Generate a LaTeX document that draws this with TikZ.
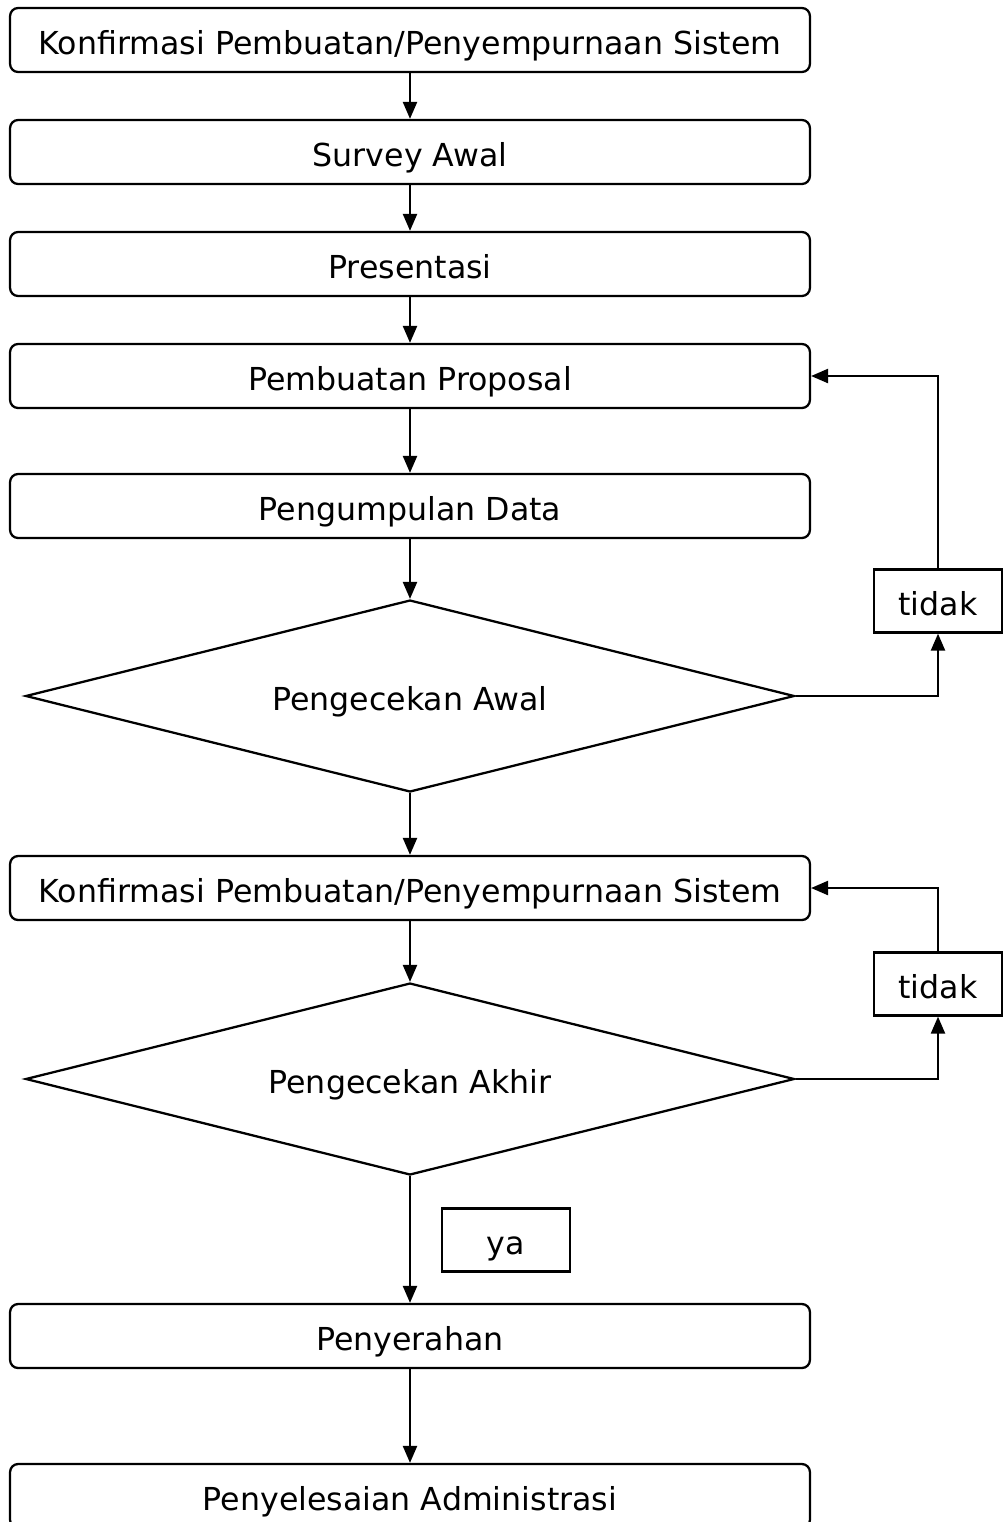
\documentclass[tikz,border=0pt]{standalone}
\usepackage{fontspec}
\setmainfont{DejaVu Sans}
\usetikzlibrary{arrows.meta,shapes.geometric}

\begin{document}
\begin{tikzpicture}[x=0.02cm, y=-0.02cm, line width=1.3pt,
    font=\fontsize{18}{21}\selectfont,
    every node/.style={text height=17pt, text depth=0pt},
    proses/.style={draw, rounded corners=0.16cm, minimum width=16cm,
      minimum height=1.28cm, inner sep=0pt},
    cek/.style={draw, diamond, aspect=4, minimum width=15.38cm, minimum height=3.84cm,
      inner sep=0pt},
    jawab/.style={draw, minimum width=2.56cm, minimum height=1.26cm, inner sep=0pt},
    panah/.style={-{Triangle[length=0.34cm, width=0.28cm]}}]
    \useasboundingbox (0, 0) rectangle (1006, 1522);

    \node[proses] (konfirmasi) at (410, 40) {Konfirmasi Pembuatan/Penyempurnaan Sistem};
    \node[proses] (survey) at (410, 152) {Survey Awal};
    \node[proses] (presentasi) at (410, 264) {Presentasi};
    \node[proses] (proposal) at (410, 376) {Pembuatan Proposal};
    \node[proses] (data) at (410, 506) {Pengumpulan Data};
    \node[cek] (cekawal) at (410, 696) {Pengecekan Awal};
    \node[jawab] (tidaka) at (938, 601) {tidak};
    \node[proses] (konfirmasib) at (410, 888) {Konfirmasi Pembuatan/Penyempurnaan Sistem};
    \node[cek] (cekakhir) at (410, 1079) {Pengecekan Akhir};
    \node[jawab] (tidakb) at (938, 984) {tidak};
    \node[jawab] (ya) at (506, 1240) {ya};
    \node[proses] (serah) at (410, 1336) {Penyerahan};
    \node[proses] (admin) at (410, 1496) {Penyelesaian Administrasi};

    \draw[panah] (konfirmasi) -- (survey);
    \draw[panah] (survey) -- (presentasi);
    \draw[panah] (presentasi) -- (proposal);
    \draw[panah] (proposal) -- (data);
    \draw[panah] (data) -- (cekawal);
    \draw[panah] (cekawal.east) -| (tidaka.south);
    \draw[panah] (tidaka.north) |- (proposal.east);
    \draw[panah] (cekawal) -- (konfirmasib);
    \draw[panah] (konfirmasib) -- (cekakhir);
    \draw[panah] (cekakhir.east) -| (tidakb.south);
    \draw[panah] (tidakb.north) |- (konfirmasib.east);
    \draw[panah] (cekakhir) -- (serah);
    \draw[panah] (serah) -- (admin);
  \end{tikzpicture}
\end{document}
